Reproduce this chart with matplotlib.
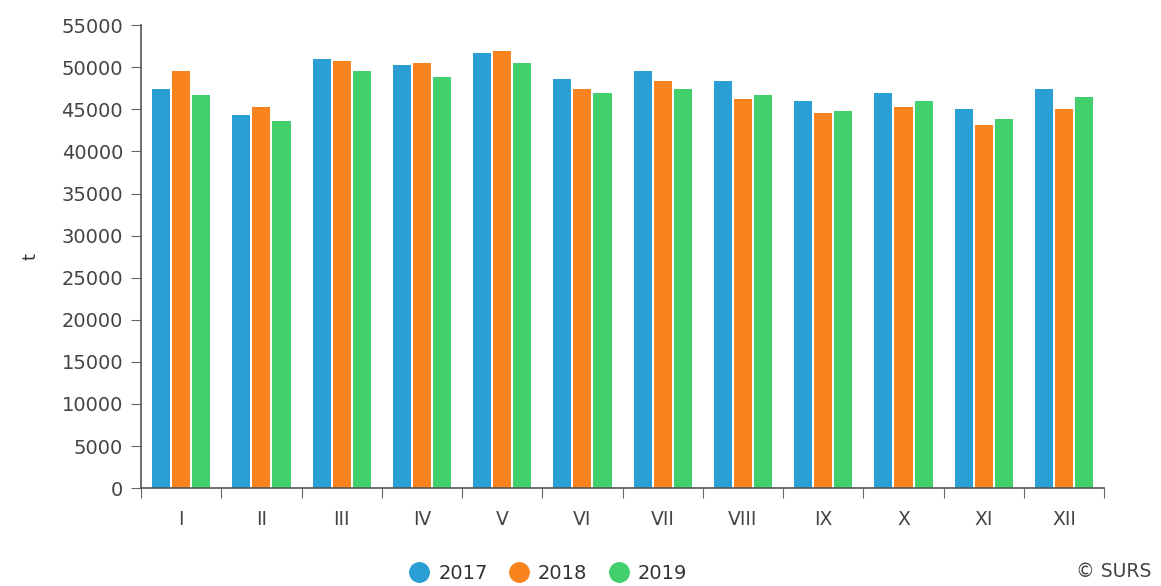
import numpy as np
import matplotlib
matplotlib.use("Agg")
import matplotlib.pyplot as plt
from matplotlib.lines import Line2D

months = ["I", "II", "III", "IV", "V", "VI", "VII", "VIII", "IX", "X", "XI", "XII"]
years = ["2017", "2018", "2019"]
v2017 = [47400, 44300, 50950, 50250, 51700, 48600, 49550, 48350, 46000, 46950, 45050, 47400]
v2018 = [49550, 45250, 50700, 50500, 51950, 47400, 48350, 46200, 44550, 45250, 43150, 45050]
v2019 = [46700, 43600, 49550, 48850, 50500, 46950, 47400, 46650, 44800, 45950, 43850, 46450]
colors = ["#2a9fd4", "#f9831f", "#41d06b"]

fig = plt.figure(figsize=(11.61, 5.86), dpi=100)
ax = fig.add_axes([0.1215, 0.167, 0.8295, 0.79])

x = np.arange(len(months))
pitch, width = 0.25, 0.225
for i, (vals, c) in enumerate(zip([v2017, v2018, v2019], colors)):
    ax.bar(x + (i - 1) * pitch, vals, width=width, color=c, zorder=2)

ax.set_xlim(-0.5, len(months) - 0.5)
ax.set_ylim(0, 55000)
ax.set_yticks(np.arange(0, 55001, 5000))
# ticks sit between months, labels in the middle
ax.set_xticks(np.arange(-0.5, len(months)), minor=False)
ax.set_xticklabels([])
ax.set_xticks(x, minor=True)
ax.set_xticklabels(months, minor=True)
ax.tick_params(axis="x", which="major", length=7, color="#666666", direction="out")
ax.tick_params(axis="x", which="minor", length=0, pad=16, labelsize=13.5, labelcolor="#444444")
ax.tick_params(axis="y", length=7, color="#666666", labelsize=14, labelcolor="#444444", pad=6)

for s in ["top", "right"]:
    ax.spines[s].set_visible(False)
for s in ["left", "bottom"]:
    ax.spines[s].set_color("#555555")
    ax.spines[s].set_linewidth(1.2)

ax.set_ylabel("t", fontsize=13, color="#333333", labelpad=16)

handles = [Line2D([], [], marker="o", linestyle="", markersize=14, color=c) for c in colors]
fig.legend(handles, years, loc="lower center", ncol=3, frameon=False,
           bbox_to_anchor=(0.468, -0.025), fontsize=14, handletextpad=0.0,
           columnspacing=0.6, labelcolor="#333333")
fig.text(0.992, 0.008, "\u00a9 SURS", ha="right", va="bottom", fontsize=13.5, color="#444444")

fig.savefig("out.png", dpi=100, facecolor="white")
